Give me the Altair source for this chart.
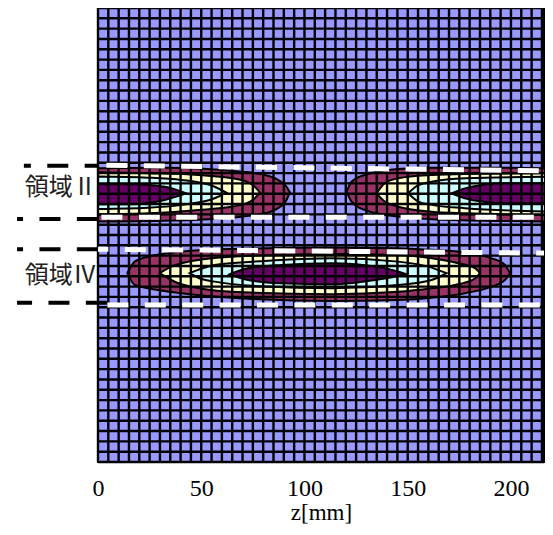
import altair as alt
import pandas as pd
import numpy as np

# ---------------- contour bands (z [mm], upper edge, lower edge) ----------------
# Region II, left lobe
L1_IIa_z = [0, 32.3, 69.5, 80.8, 87.2, 91.3, 92.9]
L1_IIa_top = [142.3, 142.6, 140.7, 139.1, 136.7, 133.4, 130.7]
L1_IIa_bot = [116.5, 116.9, 118.9, 120.5, 123.0, 127.0, 130.7]
L2_IIa_z = [0, 24.2, 48.5, 69.5, 75.9, 78.4]
L2_IIa_top = [140.4, 139.9, 139.1, 136.7, 133.4, 130.7]
L2_IIa_bot = [120.0, 120.5, 122.1, 124.6, 127.8, 130.7]
L3_IIa_z = [0, 24.2, 40.4, 56.5, 62.2]
L3_IIa_top = [138.3, 137.8, 136.7, 133.4, 130.5]
L3_IIa_bot = [122.6, 123.2, 124.6, 127.8, 130.5]
L4_IIa_z = [0, 16.2, 32.3, 42.8]
L4_IIa_top = [134.6, 134.6, 133.4, 130.2]
L4_IIa_bot = [124.9, 124.9, 127.0, 130.2]

# Region II, right lobe
L1_IIb_z = [120.4, 122.8, 129.2, 145.4, 161.6, 193.9, 220]
L1_IIb_top = [131.0, 135.8, 139.1, 142.0, 142.6, 142.6, 142.3]
L1_IIb_bot = [131.0, 126.2, 122.1, 118.9, 117.6, 116.8, 116.5]
L2_IIb_z = [134.9, 138.9, 145.4, 161.6, 177.7, 220]
L2_IIb_top = [130.2, 135.1, 137.5, 139.1, 139.6, 139.9]
L2_IIb_bot = [130.2, 126.2, 123.7, 121.3, 120.5, 119.7]
L3_IIb_z = [150.2, 155.1, 161.6, 177.7, 220]
L3_IIb_top = [130.2, 134.2, 135.8, 137.5, 138.3]
L3_IIb_bot = [130.2, 126.2, 124.6, 123.0, 121.3]
L4_IIb_z = [171.2, 177.7, 185.8, 193.9, 220]
L4_IIb_top = [130.2, 132.6, 134.2, 135.1, 135.1]
L4_IIb_bot = [130.2, 127.8, 126.2, 125.4, 125.4]

# Region IV lobe
L1_IV_z = [14.2, 17.8, 24.2, 40.4, 64.6, 113.1, 145.4, 161.6, 177.7, 190.6, 197.1, 199.5]
L1_IV_top = [91.5, 97.1, 99.5, 101.9, 103.2, 103.9, 103.6, 102.8, 101.6, 98.7, 95.5, 91.5]
L1_IV_bot = [91.5, 85.8, 84.2, 81.8, 79.6, 78.0, 78.5, 79.6, 81.8, 85.0, 88.2, 91.5]
L2_IV_z = [29.9, 35.5, 40.4, 64.6, 113.1, 145.4, 161.6, 174.5, 182.6, 185.0]
L2_IV_top = [91.5, 94.7, 96.3, 99.5, 100.8, 100.3, 98.7, 96.3, 93.9, 91.5]
L2_IV_bot = [91.5, 88.2, 86.1, 82.5, 81.3, 82.5, 84.2, 86.1, 89.0, 91.5]
L3_IV_z = [44.4, 48.5, 56.5, 80.8, 113.1, 145.4, 161.6, 168.8]
L3_IV_top = [91.5, 93.1, 95.5, 97.4, 98.7, 97.1, 94.2, 91.5]
L3_IV_bot = [91.5, 89.3, 87.4, 85.0, 84.2, 85.8, 88.2, 91.5]
L4_IV_z = [63.8, 72.7, 88.9, 113.1, 137.3, 149.4]
L4_IV_top = [91.0, 93.9, 95.5, 96.3, 94.2, 91.0]
L4_IV_bot = [91.0, 88.2, 86.6, 86.1, 88.7, 91.0]

# ---------------- region boundaries (dashed) ----------------
region_names = ["領域Ⅱ", "領域Ⅳ"]
region_label_y = [132.8, 90.2]
outer_bound_y = [143.6, 117.8, 103.1, 77.2]          # black dashes outside the plot
outer_bound_z0 = [-35.9, -39.2, -39.2, -39.2]
outer_bound_z1 = [0, 0.9, 0, 4.4]
inner_bound_left = [143.9, 118.6, 103.1, 76.1]        # white dashes inside the plot
inner_bound_right = [141.0, 118.6, 101.2, 76.1]

x_ticks = [0, 50, 100, 150, 200]
mesh_step = 5
z_max = 216        # visible part of the 0-220 mm range
y_max = 220

colors = ["#993366", "#FFFFCC", "#CCFFFF", "#660066"]
bg_color = "#9999FF"

W, H = 446, 454
FONT = "Liberation Serif, Times New Roman, Noto Sans CJK JP"

xs = alt.Scale(domain=[0, z_max], nice=False, zero=False)
ys = alt.Scale(domain=[0, y_max], nice=False, zero=False)
x_axis = alt.Axis(values=x_ticks, title="z[mm]", grid=False, ticks=False,
                  domain=False, labelFont=FONT, labelFontSize=24,
                  labelColor="black", labelPadding=14,
                  titleFont=FONT, titleFontSize=23, titleFontWeight="normal",
                  titleColor="black", titlePadding=1, labelFlush=False)


def X(field):
    return alt.X(field, scale=xs, axis=x_axis, title="z[mm]")


def Y(field):
    return alt.Y(field, scale=ys, axis=None, stack=None)


g = globals()
layers = []
for lvl in range(1, 5):
    rows = []
    for lobe in ["IIa", "IIb", "IV"]:
        zz = g[f"L{lvl}_{lobe}_z"]
        tt = g[f"L{lvl}_{lobe}_top"]
        bb = g[f"L{lvl}_{lobe}_bot"]
        for z, t, b in zip(zz, tt, bb):
            rows.append({"z": z, "top": t, "bot": b, "lobe": lobe})
    df = pd.DataFrame(rows)
    layers.append(
        alt.Chart(df).mark_area(fill=colors[lvl - 1], stroke="black", strokeWidth=2,
                                interpolate="monotone", opacity=1, clip=True)
        .encode(x=X("z:Q"), y=Y("top:Q"), y2="bot:Q", detail="lobe:N")
    )

# mesh (grid lines of the surface plot)
mesh_x = pd.DataFrame({"mx": np.arange(0, z_max + 0.1, mesh_step)})
mesh_y = pd.DataFrame({"my": np.arange(0, y_max + 0.1, mesh_step)})
layers.append(alt.Chart(mesh_x).mark_rule(color="black", strokeWidth=2.4)
              .encode(x=X("mx:Q")))
layers.append(alt.Chart(mesh_y).mark_rule(color="black", strokeWidth=2.4)
              .encode(y=Y("my:Q")))

# white dashed boundaries inside the plot
white_offsets = [29, 34, 10.6, 28]
for i in range(4):
    d = pd.DataFrame({"z": [0, 220], "y": [inner_bound_left[i], inner_bound_right[i]]})
    layers.append(alt.Chart(d).mark_line(color="white", strokeWidth=5, strokeDash=[21, 16.4],
                                         strokeDashOffset=white_offsets[i], strokeCap="butt",
                                         clip=True)
                  .encode(x=X("z:Q"), y=Y("y:Q")))

# black dashed boundaries outside the plot
black_offsets = [14, 15, 15, 6]
for i in range(4):
    d = pd.DataFrame({"z": [outer_bound_z0[i], outer_bound_z1[i]],
                      "y": [outer_bound_y[i], outer_bound_y[i]]})
    layers.append(alt.Chart(d).mark_line(color="black", strokeWidth=4, strokeDash=[21, 16.4],
                                         strokeDashOffset=black_offsets[i], strokeCap="butt",
                                         clip=False)
                  .encode(x=X("z:Q"), y=Y("y:Q")))

# region labels
lab = pd.DataFrame({"name": region_names, "y": region_label_y, "z": [-0.6, -0.6]})
layers.append(alt.Chart(lab).mark_text(align="right", baseline="middle", font=FONT,
                                       fontSize=24, color="#222222", clip=False)
              .encode(x=X("z:Q"), y=Y("y:Q"), text="name:N"))

chart = alt.layer(*layers).properties(
    width=W, height=H,
    autosize=alt.AutoSizeParams(type="none"),
    padding={"left": 90, "top": 0, "right": 1, "bottom": 65},
).configure_view(fill=bg_color, stroke="black", strokeWidth=2)

chart.save("out.html", embed_options={"renderer": "svg", "actions": False})
